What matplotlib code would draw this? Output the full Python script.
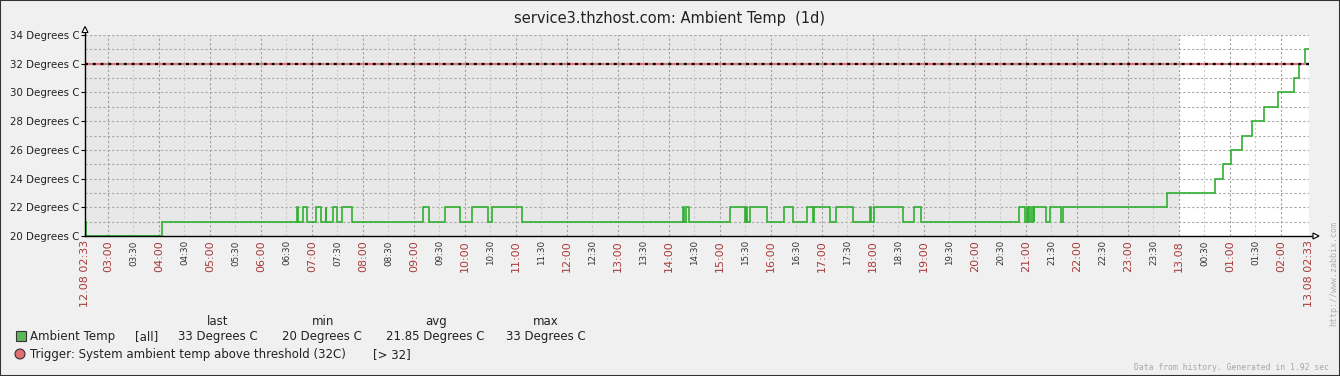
import math
import matplotlib
matplotlib.use("Agg")
import matplotlib.pyplot as plt
from matplotlib.patches import Rectangle, Polygon

# ---------------- data ----------------
title = "service3.thzhost.com: Ambient Temp  (1d)"
start_hm = "02:33"
start_label = "12.08 02:33"
end_label = "13.08 02:33"
day2_label = "13.08"

# step changes of the sensor value (time of change, new value)
change_times = [
    "02:33", "02:34", "04:04", "06:42", "06:44", "06:49", "06:54", "07:05",
    "07:11", "07:16", "07:17", "07:25", "07:29", "07:35", "07:47", "09:11",
    "09:18", "09:36", "09:54", "10:08", "10:27", "10:32", "11:07", "14:17",
    "14:18", "14:20", "14:23", "15:12", "15:29", "15:31", "15:32", "15:35",
    "15:55", "16:15", "16:26", "16:42", "16:49", "16:51", "17:10", "17:16",
    "17:36", "17:56", "17:58", "18:01", "18:35", "18:48", "18:56", "20:52",
    "20:59", "21:01", "21:02", "21:04", "21:06", "21:08", "21:09", "21:10",
    "21:23", "21:28", "21:41", "21:43", "23:46", "00:42", "00:52", "01:01",
    "01:14", "01:26", "01:40", "01:57", "02:15", "02:21", "02:28",
]
temps = [
    21, 20, 21, 22, 21, 22, 21, 22,
    21, 22, 21, 22, 21, 22, 21, 22,
    21, 22, 21, 22, 21, 22, 21, 22,
    21, 22, 21, 22, 21, 22, 21, 22,
    21, 22, 21, 22, 21, 22, 21, 22,
    21, 22, 21, 22, 21, 22, 21, 22,
    21, 22, 21, 22, 21, 22, 21, 22,
    21, 22, 21, 22, 23, 24, 25, 26,
    27, 28, 29, 30, 31, 32, 33,
]
threshold = 32
y_min, y_max = 20, 34
y_label_values = [20, 22, 24, 26, 28, 30, 32, 34]
y_unit = "Degrees C"

legend_headers = ["last", "min", "avg", "max"]
legend_item = "Ambient Temp"
legend_func = "[all]"
legend_stats = ["33 Degrees C", "20 Degrees C", "21.85 Degrees C", "33 Degrees C"]
trigger_text = "Trigger: System ambient temp above threshold (32C)"
trigger_cond = "[> 32]"
footer = "Data from history. Generated in 1.92 sec"
watermark = "http://www.zabbix.com"

# ---------------- helpers ----------------
W, H = 1340, 376
sh, sm = map(int, start_hm.split(":"))
START = sh * 60 + sm
SPAN = 1440


def minutes(hm):
    h, m = map(int, hm.split(":"))
    t = h * 60 + m - START
    return t if t >= 0 else t + 1440


def px(x, y):
    return (x / W, 1 - y / H)


plt.rcParams["font.family"] = ["DejaVu Sans"]

fig = plt.figure(figsize=(W / 100, H / 100), dpi=100, facecolor="#F0F0F0")
L, R, T, B = 85, 1309, 35, 236
ax = fig.add_axes([L / W, 1 - B / H, (R - L) / W, (B - T) / H])
ax.set_xlim(0, SPAN)
ax.set_ylim(y_min, y_max)
ax.set_facecolor("white")
for s in ax.spines.values():
    s.set_visible(False)

# working-period shading (12.08 part)
ax.axvspan(0, minutes("00:00"), color="#E8E8E8", zorder=0, lw=0)

# horizontal grid
for v in range(y_min + 1, y_max + 1):
    ax.axhline(v, color="#A6A6A6", lw=0.8, ls=(0, (2, 2)), zorder=1)

# vertical grid and tick labels
tick_pos = [0]
tick_lab = [start_label]
tick_kind = ["edge"]
t = 30 - (START % 30) if START % 30 else 30
while t < SPAN - 15:
    clock = (START + t) % 1440
    hh, mm = divmod(clock, 60)
    if mm == 0:
        lab = day2_label if hh == 0 else f"{hh:02d}:00"
        kind = "hour"
    else:
        lab = f"{hh:02d}:{mm:02d}"
        kind = "half"
    tick_pos.append(t)
    tick_lab.append(lab)
    tick_kind.append(kind)
    t += 30
tick_pos.append(SPAN)
tick_lab.append(end_label)
tick_kind.append("edge")

for p, k in zip(tick_pos, tick_kind):
    if p == 0:
        continue
    col = "#CACACA" if k == "half" else "#A0A0A0"
    ax.axvline(p, color=col, lw=0.8, ls=(0, (2, 2)), zorder=1)

ax.set_xticks(tick_pos)
ax.set_xticklabels(tick_lab, rotation=90, va="top", ha="center")
for lbl, k in zip(ax.get_xticklabels(), tick_kind):
    if k == "half":
        lbl.set_color("#333333")
        lbl.set_fontsize(6.3)
    else:
        lbl.set_color("#A83A3A")
        lbl.set_fontsize(8.0)
ax.tick_params(axis="x", length=0, pad=3)

ax.set_yticks(y_label_values)
ax.set_yticklabels([f"{v} {y_unit}" for v in y_label_values], fontsize=7.4, color="#222222")
ax.tick_params(axis="y", length=3, width=0.8, pad=1, color="black")

# data line
xs = [minutes(h) for h in change_times] + [SPAN]
ys = temps + [temps[-1]]
ax.plot(xs, ys, drawstyle="steps-post", color="#30B030", lw=1.2, zorder=4,
        solid_joinstyle="miter")

# trigger threshold line
ax.axhline(threshold, color="#D97272", lw=1.6, zorder=5)
ax.axhline(threshold, color="black", lw=1.6, ls=(0, (1.3, 2.2)), zorder=6)

# axis lines with arrows
ax.plot([0, 0], [0, 1.035], transform=ax.transAxes, color="black", lw=1.0,
        clip_on=False, zorder=7)
ax.plot([0, 1.0057], [0, 0], transform=ax.transAxes, color="black", lw=1.0,
        clip_on=False, zorder=7)
fig.patches.append(Polygon([px(82, 32.5), px(88, 32.5), px(85, 26.5)], closed=True,
                           transform=fig.transFigure, facecolor="white",
                           edgecolor="black", lw=0.8))
fig.patches.append(Polygon([px(1313, 233), px(1313, 239), px(1319, 236)], closed=True,
                           transform=fig.transFigure, facecolor="white",
                           edgecolor="black", lw=0.8))

# title
fig.text(*px(670, 18), title, ha="center", va="center", fontsize=10.5, color="#222222")

# legend
hdr_x = [218, 323, 436, 546]
for hx, h in zip(hdr_x, legend_headers):
    fig.text(*px(hx, 325), h, ha="center", va="baseline", fontsize=8.5, color="#222222")
fig.patches.append(Rectangle(px(15.5, 341), 10 / W, 10 / H, transform=fig.transFigure,
                             facecolor="#5CB85C", edgecolor="#333333", lw=0.8))
fig.text(*px(30, 340), legend_item, ha="left", va="baseline", fontsize=8.5, color="#222222")
fig.text(*px(135, 340), legend_func, ha="left", va="baseline", fontsize=8.5, color="#222222")
stat_x = [178, 282, 386, 506]
for sx, s in zip(stat_x, legend_stats):
    fig.text(*px(sx, 340), s, ha="left", va="baseline", fontsize=8.5, color="#222222")

circle_pts = [px(20 + 5 * math.cos(a / 24 * 2 * math.pi),
                 354 + 5 * math.sin(a / 24 * 2 * math.pi)) for a in range(24)]
fig.patches.append(Polygon(circle_pts, closed=True, transform=fig.transFigure,
                           facecolor="#E07070", edgecolor="#333333", lw=0.8))
fig.text(*px(30, 358), trigger_text, ha="left", va="baseline", fontsize=8.5, color="#222222")
fig.text(*px(373, 358), trigger_cond, ha="left", va="baseline", fontsize=8.5, color="#222222")

# watermark & footer
fig.text(*px(1334, 274), watermark, rotation=90, ha="center", va="center",
         fontsize=6.0, color="#B0B0B0", family="DejaVu Sans Mono")
fig.text(*px(1329, 368), footer, ha="right", va="center",
         fontsize=5.9, color="#A8A8A8", family="DejaVu Sans Mono")

# outer border
fig.patches.append(Rectangle((0, 0), 1, 1, transform=fig.transFigure, fill=False,
                             edgecolor="#333333", lw=1.5))

fig.savefig("out.png", dpi=100, facecolor=fig.get_facecolor())
